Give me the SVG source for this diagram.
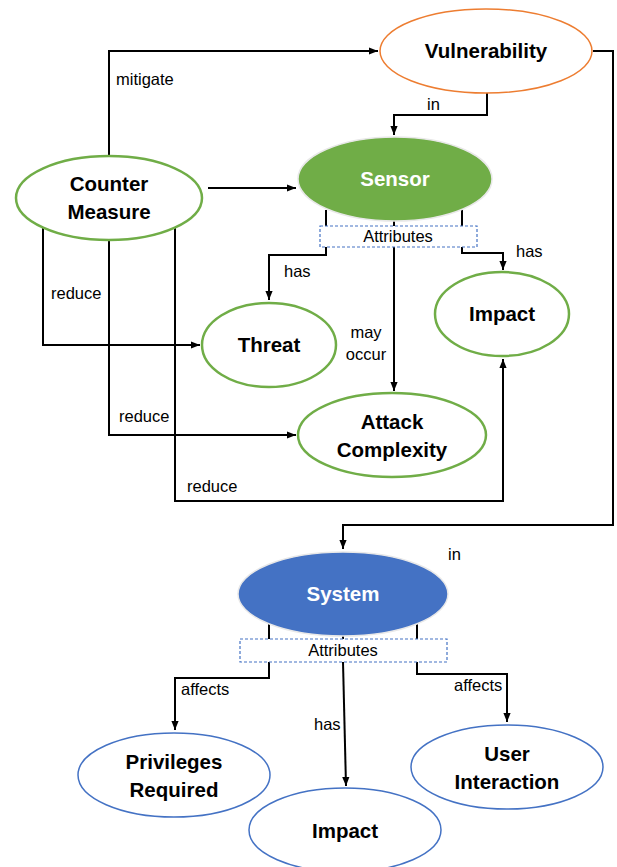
<svg xmlns="http://www.w3.org/2000/svg" width="617" height="867" viewBox="0 0 617 867">
<style>
.n{font-family:"Liberation Sans",Arial,sans-serif;font-weight:bold;font-size:20.5px;text-anchor:middle;fill:#000}
.w{fill:#fff}
.l{font-family:"Liberation Sans",Arial,sans-serif;font-size:16.5px;fill:#000}
.c{fill:none;stroke:#000;stroke-width:2}
.g{fill:#fff;stroke:#70AD47;stroke-width:2.5}
.b{fill:#fff;stroke:#4472C4;stroke-width:1.5}
.box{fill:#fff;stroke:#4472C4;stroke-width:1.2;stroke-dasharray:3 2}
</style>
<defs>
<marker id="ah" viewBox="0 0 10 10" refX="10" refY="5" markerWidth="9" markerHeight="9" orient="auto" markerUnits="userSpaceOnUse">
<path d="M0,1 L10,5 L0,9 z" fill="#000"/>
</marker>
</defs>
<rect width="617" height="867" fill="#fff"/>
<g id="connectors">
<path class="c" d="M109,156 V51 H378" marker-end="url(#ah)"/>
<path class="c" d="M593,51 H613 V525 H343 V549" marker-end="url(#ah)"/>
<path class="c" d="M487,93 V115 H394 V135" marker-end="url(#ah)"/>
<path class="c" d="M208,188 H296" marker-end="url(#ah)"/>
<path class="c" d="M326,210 V226 M394,220 V226 M462,210 V226"/>
<path class="c" d="M326,247 V255 H269 V300" marker-end="url(#ah)"/>
<path class="c" d="M462,247 V253 H503 V270" marker-end="url(#ah)"/>
<path class="c" d="M394,247 V391" marker-end="url(#ah)"/>
<path class="c" d="M43,228 V345 H200" marker-end="url(#ah)"/>
<path class="c" d="M109,240 V435 H296" marker-end="url(#ah)"/>
<path class="c" d="M175,228 V501 H503 V359" marker-end="url(#ah)"/>
<path class="c" d="M269,623 V639 M343,634 V639 M417,623 V639"/>
<path class="c" d="M269,662 V678 H175 V730" marker-end="url(#ah)"/>
<path class="c" d="M343,662 L346,786" marker-end="url(#ah)"/>
<path class="c" d="M417,662 V674 H507 V722" marker-end="url(#ah)"/>
</g>
<g id="labels">
<text class="l" x="116" y="85">mitigate</text>
<text class="l" x="427" y="110">in</text>
<text class="l" x="284" y="277">has</text>
<text class="l" x="516" y="257">has</text>
<text class="l" x="366" y="338" text-anchor="middle">may</text>
<text class="l" x="366" y="360" text-anchor="middle">occur</text>
<text class="l" x="51" y="299">reduce</text>
<text class="l" x="119" y="422">reduce</text>
<text class="l" x="187" y="492">reduce</text>
<text class="l" x="448" y="560">in</text>
<text class="l" x="181" y="695">affects</text>
<text class="l" x="314" y="730">has</text>
<text class="l" x="454" y="691">affects</text>
</g>
<g id="vulnerability">
<ellipse cx="486" cy="51" rx="106" ry="42" fill="#fff" stroke="#ED7D31" stroke-width="1.5"/>
<text class="n" x="486" y="58">Vulnerability</text>
</g>
<g id="counter-measure">
<ellipse class="g" cx="109" cy="198" rx="93" ry="42"/>
<text class="n" x="109" y="191">Counter</text>
<text class="n" x="109" y="219">Measure</text>
</g>
<g id="sensor">
<ellipse cx="395" cy="179" rx="97" ry="42" fill="#70AD47" stroke="#e8e8e8" stroke-width="1.5"/>
<text class="n w" x="395" y="186">Sensor</text>
</g>
<g id="sensor-attributes">
<rect class="box" x="320" y="226" width="157" height="21"/>
<text class="l" x="398" y="242" text-anchor="middle">Attributes</text>
</g>
<g id="threat">
<ellipse class="g" cx="269" cy="345" rx="67" ry="42"/>
<text class="n" x="269" y="352">Threat</text>
</g>
<g id="impact-sensor">
<ellipse class="g" cx="502" cy="314" rx="67" ry="42"/>
<text class="n" x="502" y="321">Impact</text>
</g>
<g id="attack-complexity">
<ellipse class="g" cx="392" cy="435" rx="94" ry="42"/>
<text class="n" x="392" y="429">Attack</text>
<text class="n" x="392" y="457">Complexity</text>
</g>
<g id="system">
<ellipse cx="343" cy="594" rx="105" ry="42" fill="#4472C4" stroke="#e8e8e8" stroke-width="1.5"/>
<text class="n w" x="343" y="601">System</text>
</g>
<g id="system-attributes">
<rect class="box" x="240" y="639" width="207" height="23"/>
<text class="l" x="343" y="656" text-anchor="middle">Attributes</text>
</g>
<g id="privileges-required">
<ellipse class="b" cx="174" cy="775" rx="96" ry="42"/>
<text class="n" x="174" y="769">Privileges</text>
<text class="n" x="174" y="797">Required</text>
</g>
<g id="impact-system">
<ellipse class="b" cx="345" cy="830" rx="96" ry="42"/>
<text class="n" x="345" y="838">Impact</text>
</g>
<g id="user-interaction">
<ellipse class="b" cx="507" cy="767" rx="96" ry="42"/>
<text class="n" x="507" y="761">User</text>
<text class="n" x="507" y="789">Interaction</text>
</g>
</svg>
